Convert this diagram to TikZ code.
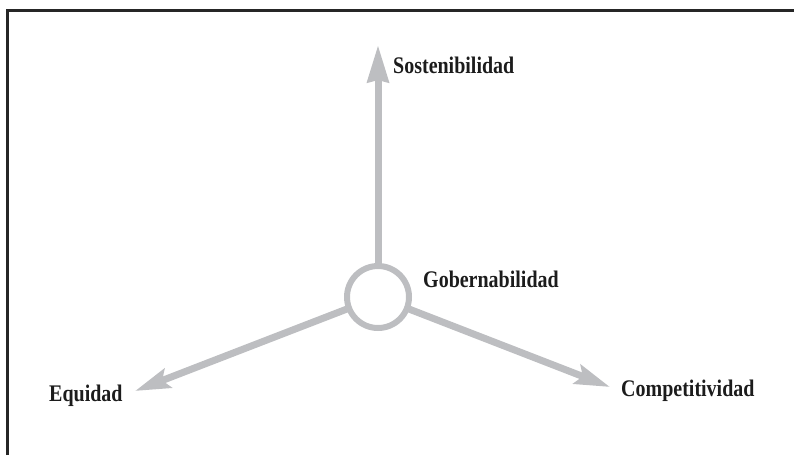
\documentclass[tikz,border=0pt]{standalone}
\usepackage{fontspec}
\newfontfamily\labfont{Liberation Serif}[FakeStretch=0.84]
\usetikzlibrary{arrows.meta}
\definecolor{axisgray}{HTML}{BDBEC1}
\definecolor{framegray}{HTML}{262626}
\definecolor{inkblack}{HTML}{1C1C1C}
\tikzset{
  axis/.style={draw=axisgray, line width=7pt,
    -{Stealth[length=35pt, width=20pt, inset=6pt]}},
  hub/.style={circle, draw=axisgray, line width=6pt, minimum size=62pt,
    inner sep=0pt, outer sep=0pt},
  lab/.style={anchor=base west, inner sep=0pt, text=inkblack,
    font=\labfont\bfseries\fontsize{23.8}{25}\selectfont},
  frame/.style={draw=framegray, line width=3pt}
}
\begin{document}
\begin{tikzpicture}[x=1pt, y=-1pt]
  \useasboundingbox (0,0) rectangle (794,455);
  % open frame: top and left edges
  \draw[frame] (7.5,455) -- (7.5,10.5) -- (794,10.5);
  % central hub
  \node[hub] (hub) at (378,297) {};
  % arrow tips
  \coordinate (tipS) at (378,45);
  \coordinate (tipE) at (135,391);
  \coordinate (tipC) at (610,387);
  \draw[axis, -{Stealth[length=37pt, width=21pt, inset=2pt]}] (hub) -- (tipS);
  \draw[axis] (hub) -- (tipE);
  \draw[axis] (hub) -- (tipC);
  % labels
  \node[lab] (sos) at (393,73.3) {Sostenibilidad};
  \node[lab] (gob) at (423,287.3) {Gobernabilidad};
  \node[lab] (com) at (621,396) {Competitividad};
  \node[lab] (equ) at (49,401.7) {Equidad};
\end{tikzpicture}
\end{document}
